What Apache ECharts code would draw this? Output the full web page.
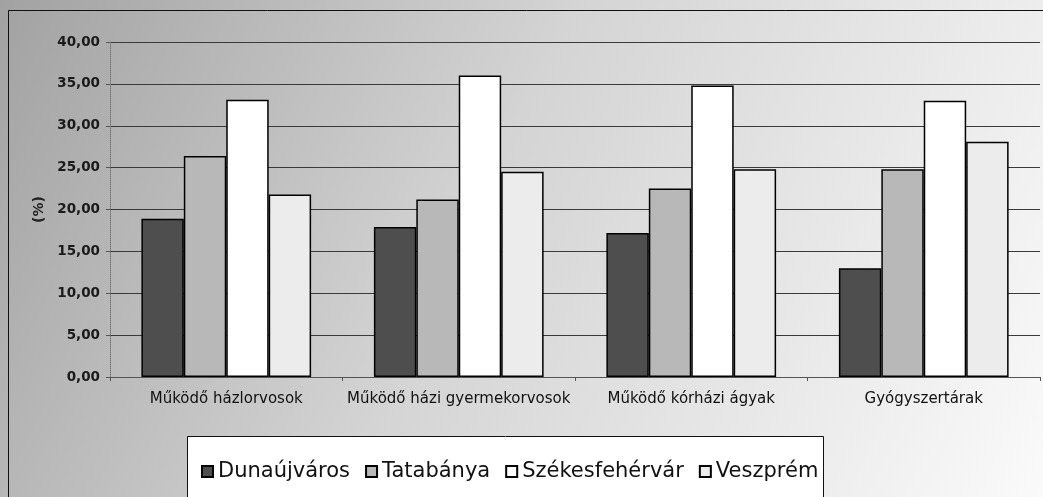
<!DOCTYPE html>
<html>
<head>
<meta charset="utf-8">
<script src="https://cdn.jsdelivr.net/npm/echarts@6/dist/echarts.min.js"></script>
<style>
  html, body { margin: 0; padding: 0; background: #fff; }
  #chart { width: 1043px; height: 497px; }
</style>
</head>
<body>
<div id="chart"></div>
<script>
// categories and values
var categories = ['Működő házlorvosok', 'Működő házi gyermekorvosok', 'Működő kórházi ágyak', 'Gyógyszertárak'];
var cities = ['Dunaújváros', 'Tatabánya', 'Székesfehérvár', 'Veszprém'];
var dunaujvaros = [18.9, 17.9, 17.2, 13.0];
var tatabanya = [26.4, 21.2, 22.5, 24.8];
var szekesfehervar = [33.1, 36.0, 34.8, 33.0];
var veszprem = [21.8, 24.5, 24.8, 28.1];
var yTicks = [0, 5, 10, 15, 20, 25, 30, 35, 40];

var fills = ['#4e4e4e', '#b8b8b8', '#ffffff', '#ececec'];
var seriesData = [dunaujvaros, tatabanya, szekesfehervar, veszprem];
var font = 'DejaVu Sans, Verdana, sans-serif';

var chart = echarts.init(document.getElementById('chart'));

var option = {
    animation: false,
    backgroundColor: {
        type: 'linear', x: 0, y: 0, x2: 1, y2: 1,
        colorStops: [
            { offset: 0, color: '#a2a2a2' },
            { offset: 0.45, color: '#d4d4d4' },
            { offset: 1, color: '#fafafa' }
        ]
    },
    grid: {
        left: 110,
        right: 3,
        top: 42,
        bottom: 120
    },
    legend: {
        data: cities,
        left: 196,
        top: 456,
        icon: 'rect',
        itemWidth: 11,
        itemHeight: 11,
        itemGap: 15,
        textStyle: {
            fontFamily: font,
            fontSize: 21,
            color: '#111'
        }
    },
    xAxis: {
        type: 'category',
        data: categories,
        axisLine: { lineStyle: { color: '#555', width: 1 } },
        axisTick: { show: true, length: 4, lineStyle: { color: '#555' } },
        axisLabel: {
            interval: 0,
            margin: 15,
            fontFamily: font,
            fontSize: 15,
            color: '#111'
        }
    },
    yAxis: {
        type: 'value',
        min: yTicks[0],
        max: yTicks[yTicks.length - 1],
        interval: 5,
        name: '(%)',
        nameLocation: 'middle',
        nameRotate: 90,
        nameGap: 64,
        nameTextStyle: {
            fontFamily: font,
            fontSize: 14,
            fontWeight: 'bold',
            color: '#222'
        },
        axisLine: { show: true, lineStyle: { color: '#777', width: 1, type: 'dotted' } },
        axisTick: { show: true, length: 4, lineStyle: { color: '#555' } },
        axisLabel: {
            margin: 10,
            fontFamily: font,
            fontSize: 13.5,
            fontWeight: 'bold',
            color: '#1a1a1a',
            formatter: function (v) { return v.toFixed(2).replace('.', ','); }
        },
        splitLine: { lineStyle: { color: '#3a3a3a', width: 1 } }
    },
    series: cities.map(function (name, i) {
        return {
            name: name,
            type: 'bar',
            data: seriesData[i],
            barGap: '0%',
            barCategoryGap: '27%',
            itemStyle: {
                color: fills[i],
                borderColor: '#000',
                borderWidth: 1.5
            }
        };
    }),
    graphic: [
        {
            type: 'rect',
            shape: { x: 8.5, y: 10.5, width: 1100, height: 600 },
            style: { fill: 'none', stroke: '#111', lineWidth: 1 },
            silent: true
        },
        {
            type: 'rect',
            shape: { x: 187.5, y: 436.5, width: 636, height: 80 },
            style: { fill: '#ffffff', stroke: '#111', lineWidth: 1 },
            z: -1,
            silent: true
        }
    ]
};

chart.setOption(option);
</script>
</body>
</html>
